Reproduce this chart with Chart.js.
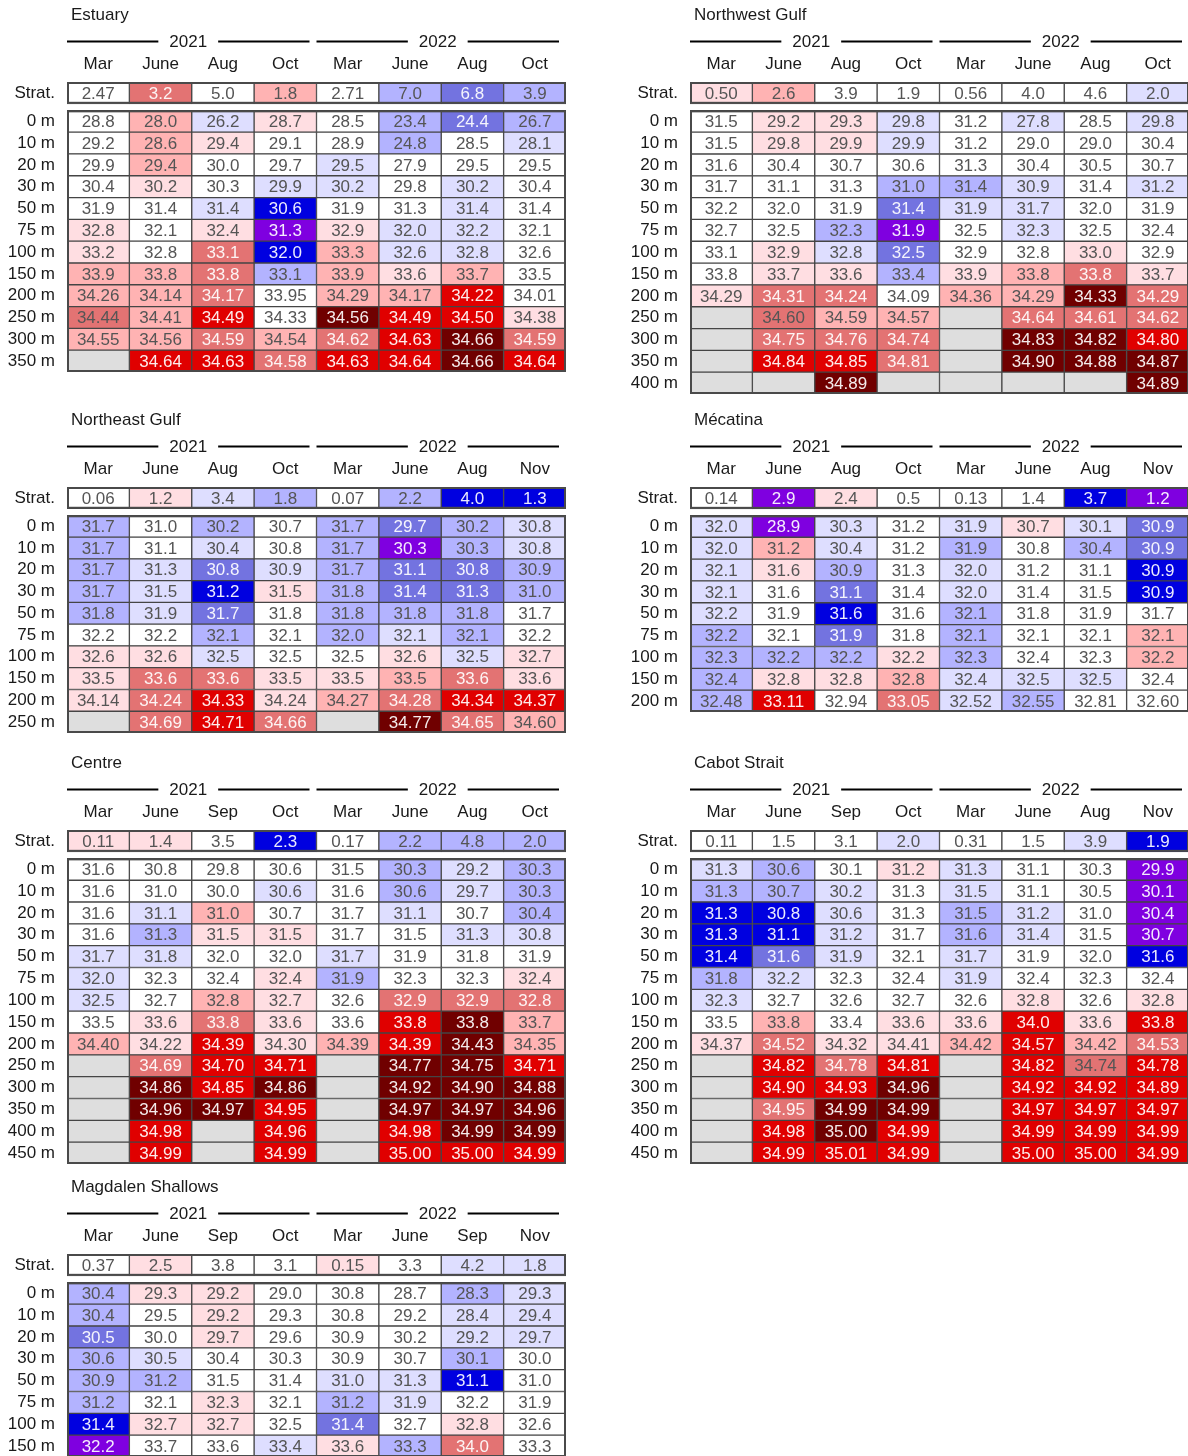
<!DOCTYPE html>
<html>
<head>
<meta charset="utf-8">
<script src="https://cdn.jsdelivr.net/npm/chart.js@4.4.0/dist/chart.umd.min.js"></script>
<style>
  html, body { margin: 0; padding: 0; background: #fff; overflow: hidden; }
  #wrap { position: relative; width: 1188px; height: 1456px; overflow: hidden; }
  #wrap canvas { position: absolute; }
</style>
</head>
<body>
<div id="wrap"></div>
<script>
const N = null;
const years = ['2021', '2022'];

// Estuary
const estuaryMonths = ['Mar', 'June', 'Aug', 'Oct', 'Mar', 'June', 'Aug', 'Oct'];
const estuaryDepths = [0, 10, 20, 30, 50, 75, 100, 150, 200, 250, 300, 350];
const estuaryStrat = [2.47, 3.2, 5.0, 1.8, 2.71, 7.0, 6.8, 3.9];
const estuaryStratAnom = [0, 3, 0, 2, 0, -2, -3, -2];
const estuarySal = [
  [28.8, 28.0, 26.2, 28.7, 28.5, 23.4, 24.4, 26.7],
  [29.2, 28.6, 29.4, 29.1, 28.9, 24.8, 28.5, 28.1],
  [29.9, 29.4, 30.0, 29.7, 29.5, 27.9, 29.5, 29.5],
  [30.4, 30.2, 30.3, 29.9, 30.2, 29.8, 30.2, 30.4],
  [31.9, 31.4, 31.4, 30.6, 31.9, 31.3, 31.4, 31.4],
  [32.8, 32.1, 32.4, 31.3, 32.9, 32.0, 32.2, 32.1],
  [33.2, 32.8, 33.1, 32.0, 33.3, 32.6, 32.8, 32.6],
  [33.9, 33.8, 33.8, 33.1, 33.9, 33.6, 33.7, 33.5],
  [34.26, 34.14, 34.17, 33.95, 34.29, 34.17, 34.22, 34.01],
  [34.44, 34.41, 34.49, 34.33, 34.56, 34.49, 34.50, 34.38],
  [34.55, 34.56, 34.59, 34.54, 34.62, 34.63, 34.66, 34.59],
  [N, 34.64, 34.63, 34.58, 34.63, 34.64, 34.66, 34.64]
];
const estuaryAnom = [
  [0, 2, -1, 1, 0, -2, -3, -2],
  [0, 2, 1, 0, 0, -2, 0, -1],
  [0, 2, 0, 0, -1, 0, 0, 0],
  [0, 1, 0, -1, -1, 0, -1, 0],
  [0, 0, -1, -4, 0, 0, -1, 0],
  [1, 0, 1, -5, 1, -1, -1, 0],
  [1, 0, 3, -4, 2, -1, -1, 0],
  [2, 2, 3, -2, 2, 1, 2, 0],
  [2, 2, 3, 0, 2, 2, 4, 0],
  [3, 2, 4, 0, 5, 4, 4, 1],
  [2, 2, 3, 2, 3, 4, 5, 3],
  [N, 4, 4, 3, 4, 4, 5, 4]
];
const estuaryDarkText = [[9, 0]];

// Northwest Gulf
const nwMonths = ['Mar', 'June', 'Aug', 'Oct', 'Mar', 'June', 'Aug', 'Oct'];
const nwDepths = [0, 10, 20, 30, 50, 75, 100, 150, 200, 250, 300, 350, 400];
const nwStrat = [0.50, 2.6, 3.9, 1.9, 0.56, 4.0, 4.6, 2.0];
const nwStratAnom = [1, 2, 0, 0, 0, 0, 0, -1];
const nwSal = [
  [31.5, 29.2, 29.3, 29.8, 31.2, 27.8, 28.5, 29.8],
  [31.5, 29.8, 29.9, 29.9, 31.2, 29.0, 29.0, 30.4],
  [31.6, 30.4, 30.7, 30.6, 31.3, 30.4, 30.5, 30.7],
  [31.7, 31.1, 31.3, 31.0, 31.4, 30.9, 31.4, 31.2],
  [32.2, 32.0, 31.9, 31.4, 31.9, 31.7, 32.0, 31.9],
  [32.7, 32.5, 32.3, 31.9, 32.5, 32.3, 32.5, 32.4],
  [33.1, 32.9, 32.8, 32.5, 32.9, 32.8, 33.0, 32.9],
  [33.8, 33.7, 33.6, 33.4, 33.9, 33.8, 33.8, 33.7],
  [34.29, 34.31, 34.24, 34.09, 34.36, 34.29, 34.33, 34.29],
  [N, 34.60, 34.59, 34.57, N, 34.64, 34.61, 34.62],
  [N, 34.75, 34.76, 34.74, N, 34.83, 34.82, 34.80],
  [N, 34.84, 34.85, 34.81, N, 34.90, 34.88, 34.87],
  [N, N, 34.89, N, N, N, N, 34.89]
];
const nwAnom = [
  [0, 1, 1, -1, 0, -1, 0, -1],
  [0, 1, 1, -1, 0, 0, 0, 0],
  [0, 0, 0, 0, 0, 0, 0, 0],
  [0, 0, 0, -2, -2, -1, 0, -1],
  [0, 0, 0, -3, -1, -1, 0, 0],
  [0, 0, -2, -5, 0, -1, 0, 0],
  [0, 1, -1, -3, 0, 0, 1, 0],
  [0, 1, 1, -2, 1, 2, 3, 1],
  [1, 3, 3, 0, 2, 2, 5, 3],
  [N, 3, 2, 2, N, 3, 3, 3],
  [N, 3, 3, 3, N, 5, 5, 4],
  [N, 4, 4, 3, N, 5, 5, 5],
  [N, N, 5, N, N, N, N, 5]
];
const nwDarkText = [[9, 1]];

// Northeast Gulf
const neMonths = ['Mar', 'June', 'Aug', 'Oct', 'Mar', 'June', 'Aug', 'Nov'];
const neDepths = [0, 10, 20, 30, 50, 75, 100, 150, 200, 250];
const neStrat = [0.06, 1.2, 3.4, 1.8, 0.07, 2.2, 4.0, 1.3];
const neStratAnom = [0, 1, -1, -2, 0, -2, -4, -4];
const neSal = [
  [31.7, 31.0, 30.2, 30.7, 31.7, 29.7, 30.2, 30.8],
  [31.7, 31.1, 30.4, 30.8, 31.7, 30.3, 30.3, 30.8],
  [31.7, 31.3, 30.8, 30.9, 31.7, 31.1, 30.8, 30.9],
  [31.7, 31.5, 31.2, 31.5, 31.8, 31.4, 31.3, 31.0],
  [31.8, 31.9, 31.7, 31.8, 31.8, 31.8, 31.8, 31.7],
  [32.2, 32.2, 32.1, 32.1, 32.0, 32.1, 32.1, 32.2],
  [32.6, 32.6, 32.5, 32.5, 32.5, 32.6, 32.5, 32.7],
  [33.5, 33.6, 33.6, 33.5, 33.5, 33.5, 33.6, 33.6],
  [34.14, 34.24, 34.33, 34.24, 34.27, 34.28, 34.34, 34.37],
  [N, 34.69, 34.71, 34.66, N, 34.77, 34.65, 34.60]
];
const neAnom = [
  [-2, 0, -2, 0, -2, -3, -2, -1],
  [-2, 0, -1, 0, -2, -5, -2, -1],
  [-2, -1, -3, -1, -2, -3, -3, -2],
  [-2, -1, -4, 1, -2, -3, -3, -2],
  [-2, -1, -3, 0, -2, -2, -2, 0],
  [0, 0, -2, 0, -2, -1, -2, 0],
  [1, 1, -1, 0, 0, 1, -1, 1],
  [1, 3, 3, 1, 1, 2, 3, 1],
  [1, 3, 4, 1, 2, 3, 4, 4],
  [N, 3, 4, 3, N, 5, 3, 2]
];

// Mécatina
const meMonths = ['Mar', 'June', 'Aug', 'Oct', 'Mar', 'June', 'Aug', 'Nov'];
const meDepths = [0, 10, 20, 30, 50, 75, 100, 150, 200];
const meStrat = [0.14, 2.9, 2.4, 0.5, 0.13, 1.4, 3.7, 1.2];
const meStratAnom = [0, -5, 1, 0, 0, 0, -4, -5];
const meSal = [
  [32.0, 28.9, 30.3, 31.2, 31.9, 30.7, 30.1, 30.9],
  [32.0, 31.2, 30.4, 31.2, 31.9, 30.8, 30.4, 30.9],
  [32.1, 31.6, 30.9, 31.3, 32.0, 31.2, 31.1, 30.9],
  [32.1, 31.6, 31.1, 31.4, 32.0, 31.4, 31.5, 30.9],
  [32.2, 31.9, 31.6, 31.6, 32.1, 31.8, 31.9, 31.7],
  [32.2, 32.1, 31.9, 31.8, 32.1, 32.1, 32.1, 32.1],
  [32.3, 32.2, 32.2, 32.2, 32.3, 32.4, 32.3, 32.2],
  [32.4, 32.8, 32.8, 32.8, 32.4, 32.5, 32.5, 32.4],
  [32.48, 33.11, 32.94, 33.05, 32.52, 32.55, 32.81, 32.60]
];
const meAnom = [
  [-1, -5, -1, 0, -1, 1, -1, -3],
  [-1, 2, -1, 0, -2, 0, -2, -3],
  [-1, 1, -2, 0, -1, 0, 0, -4],
  [-1, 0, -3, 0, -1, 0, 0, -4],
  [-1, 0, -4, 0, -2, 0, 0, 0],
  [-2, 0, -3, 0, -2, 0, 0, 2],
  [-2, -2, -2, 1, -2, 0, 0, 2],
  [-2, 1, 1, 2, -1, -1, -1, 0],
  [-2, 4, 0, 3, -1, -2, 0, 0]
];

// Centre
const ceMonths = ['Mar', 'June', 'Sep', 'Oct', 'Mar', 'June', 'Aug', 'Oct'];
const ceDepths = [0, 10, 20, 30, 50, 75, 100, 150, 200, 250, 300, 350, 400, 450];
const ceStrat = [0.11, 1.4, 3.5, 2.3, 0.17, 2.2, 4.8, 2.0];
const ceStratAnom = [1, 1, 0, -4, 0, -2, -2, -2];
const ceSal = [
  [31.6, 30.8, 29.8, 30.6, 31.5, 30.3, 29.2, 30.3],
  [31.6, 31.0, 30.0, 30.6, 31.6, 30.6, 29.7, 30.3],
  [31.6, 31.1, 31.0, 30.7, 31.7, 31.1, 30.7, 30.4],
  [31.6, 31.3, 31.5, 31.5, 31.7, 31.5, 31.3, 30.8],
  [31.7, 31.8, 32.0, 32.0, 31.7, 31.9, 31.8, 31.9],
  [32.0, 32.3, 32.4, 32.4, 31.9, 32.3, 32.3, 32.4],
  [32.5, 32.7, 32.8, 32.7, 32.6, 32.9, 32.9, 32.8],
  [33.5, 33.6, 33.8, 33.6, 33.6, 33.8, 33.8, 33.7],
  [34.40, 34.22, 34.39, 34.30, 34.39, 34.39, 34.43, 34.35],
  [N, 34.69, 34.70, 34.71, N, 34.77, 34.75, 34.71],
  [N, 34.86, 34.85, 34.86, N, 34.92, 34.90, 34.88],
  [N, 34.96, 34.97, 34.95, N, 34.97, 34.97, 34.96],
  [N, 34.98, N, 34.96, N, 34.98, 34.99, 34.99],
  [N, 34.99, N, 34.99, N, 35.00, 35.00, 34.99]
];
const ceAnom = [
  [0, 0, 0, 0, 0, -2, -1, -2],
  [0, 0, 0, -1, 0, -2, -1, -2],
  [0, -1, 2, 0, 0, -1, 0, -2],
  [0, -2, 1, 1, 0, 0, -1, -1],
  [-1, -1, 0, 0, -1, 0, 0, 0],
  [-1, 0, 0, 1, -2, 0, 0, 1],
  [-1, 0, 2, 1, 0, 3, 3, 3],
  [0, 1, 3, 1, 0, 4, 5, 2],
  [2, 1, 4, 1, 2, 4, 5, 2],
  [N, 3, 4, 4, N, 5, 5, 4],
  [N, 5, 4, 5, N, 5, 5, 5],
  [N, 5, 5, 4, N, 5, 5, 5],
  [N, 4, N, 4, N, 4, 5, 5],
  [N, 4, N, 4, N, 4, 4, 4]
];

// Cabot Strait
const caMonths = ['Mar', 'June', 'Sep', 'Oct', 'Mar', 'June', 'Aug', 'Nov'];
const caDepths = [0, 10, 20, 30, 50, 75, 100, 150, 200, 250, 300, 350, 400, 450];
const caStrat = [0.11, 1.5, 3.1, 2.0, 0.31, 1.5, 3.9, 1.9];
const caStratAnom = [0, 0, 0, -1, 0, 0, -1, -4];
const caSal = [
  [31.3, 30.6, 30.1, 31.2, 31.3, 31.1, 30.3, 29.9],
  [31.3, 30.7, 30.2, 31.3, 31.5, 31.1, 30.5, 30.1],
  [31.3, 30.8, 30.6, 31.3, 31.5, 31.2, 31.0, 30.4],
  [31.3, 31.1, 31.2, 31.7, 31.6, 31.4, 31.5, 30.7],
  [31.4, 31.6, 31.9, 32.1, 31.7, 31.9, 32.0, 31.6],
  [31.8, 32.2, 32.3, 32.4, 31.9, 32.4, 32.3, 32.4],
  [32.3, 32.7, 32.6, 32.7, 32.6, 32.8, 32.6, 32.8],
  [33.5, 33.8, 33.4, 33.6, 33.6, 34.0, 33.6, 33.8],
  [34.37, 34.52, 34.32, 34.41, 34.42, 34.57, 34.42, 34.53],
  [N, 34.82, 34.78, 34.81, N, 34.82, 34.74, 34.78],
  [N, 34.90, 34.93, 34.96, N, 34.92, 34.92, 34.89],
  [N, 34.95, 34.99, 34.99, N, 34.97, 34.97, 34.97],
  [N, 34.98, 35.00, 34.99, N, 34.99, 34.99, 34.99],
  [N, 34.99, 35.01, 34.99, N, 35.00, 35.00, 34.99]
];
const caAnom = [
  [-1, -2, 0, 1, -1, 0, 0, -5],
  [-2, -2, -1, 0, -1, 0, 0, -5],
  [-4, -4, -1, 0, -2, -1, 0, -5],
  [-4, -4, -1, 0, -2, -1, 0, -5],
  [-4, -3, -1, 0, -1, 0, 0, -4],
  [-2, -1, 0, 0, -1, 0, 0, 0],
  [-1, 0, 0, 0, 0, 1, 0, 1],
  [0, 2, 0, 1, 1, 4, 1, 4],
  [1, 3, 1, 1, 2, 4, 2, 3],
  [N, 4, 3, 4, N, 4, 3, 4],
  [N, 4, 4, 5, N, 4, 4, 4],
  [N, 3, 5, 5, N, 4, 4, 4],
  [N, 4, 5, 4, N, 4, 4, 4],
  [N, 4, 4, 4, N, 4, 4, 4]
];
const caDarkText = [[9, 6]];

// Magdalen Shallows
const maMonths = ['Mar', 'June', 'Sep', 'Oct', 'Mar', 'June', 'Sep', 'Nov'];
const maDepths = [0, 10, 20, 30, 50, 75, 100, 150];
const maStrat = [0.37, 2.5, 3.8, 3.1, 0.15, 3.3, 4.2, 1.8];
const maStratAnom = [0, 1, 0, 0, 1, 0, -1, -1];
const maSal = [
  [30.4, 29.3, 29.2, 29.0, 30.8, 28.7, 28.3, 29.3],
  [30.4, 29.5, 29.2, 29.3, 30.8, 29.2, 28.4, 29.4],
  [30.5, 30.0, 29.7, 29.6, 30.9, 30.2, 29.2, 29.7],
  [30.6, 30.5, 30.4, 30.3, 30.9, 30.7, 30.1, 30.0],
  [30.9, 31.2, 31.5, 31.4, 31.0, 31.3, 31.1, 31.0],
  [31.2, 32.1, 32.3, 32.1, 31.2, 31.9, 32.2, 31.9],
  [31.4, 32.7, 32.7, 32.5, 31.4, 32.7, 32.8, 32.6],
  [32.2, 33.7, 33.6, 33.4, 33.6, 33.3, 34.0, 33.3]
];
const maAnom = [
  [-2, 1, 1, 0, 0, 0, -2, -1],
  [-2, 0, 1, 0, 0, 0, -1, -1],
  [-3, 0, 1, 0, 0, 0, -1, -1],
  [-2, -1, 0, 0, 0, 0, -2, 0],
  [-2, -2, 0, 0, -1, -1, -4, 0],
  [-2, 0, 1, 0, -2, -1, 0, 0],
  [-4, 1, 1, 0, -3, 0, 1, 0],
  [-5, 0, 0, -1, 1, -2, 3, 0]
];

// anomaly class -> fill colour
const fills = {
  '-5': '#7f00e0', '-4': '#0000e0', '-3': '#7373e0', '-2': '#b3b3ff', '-1': '#dedeff',
  '0': '#ffffff', '1': '#ffdee2', '2': '#ffb3b3', '3': '#e37373', '4': '#e00000', '5': '#700000'
};
const missingFill = '#dedede';
const FONT = '"Liberation Sans", Arial, Helvetica, sans-serif';
const ROW = 21.8;
const TOP = 82;

const panels = [
  { title: 'Estuary', months: estuaryMonths, depths: estuaryDepths, strat: estuaryStrat, stratAnom: estuaryStratAnom, sal: estuarySal, anom: estuaryAnom, dark: estuaryDarkText, left: 0, top: 0 },
  { title: 'Northwest Gulf', months: nwMonths, depths: nwDepths, strat: nwStrat, stratAnom: nwStratAnom, sal: nwSal, anom: nwAnom, dark: nwDarkText, left: 623, top: 0 },
  { title: 'Northeast Gulf', months: neMonths, depths: neDepths, strat: neStrat, stratAnom: neStratAnom, sal: neSal, anom: neAnom, dark: [], left: 0, top: 405 },
  { title: 'Mécatina', months: meMonths, depths: meDepths, strat: meStrat, stratAnom: meStratAnom, sal: meSal, anom: meAnom, dark: [], left: 623, top: 405 },
  { title: 'Centre', months: ceMonths, depths: ceDepths, strat: ceStrat, stratAnom: ceStratAnom, sal: ceSal, anom: ceAnom, dark: [], left: 0, top: 748 },
  { title: 'Cabot Strait', months: caMonths, depths: caDepths, strat: caStrat, stratAnom: caStratAnom, sal: caSal, anom: caAnom, dark: caDarkText, left: 623, top: 748 },
  { title: 'Magdalen Shallows', months: maMonths, depths: maDepths, strat: maStrat, stratAnom: maStratAnom, sal: maSal, anom: maAnom, dark: [], left: 0, top: 1172 }
];

function buildCells(p) {
  const cells = [];
  p.strat.forEach((v, c) => {
    cells.push({ x: c, y: [-1.8, -0.8], v: v, k: p.stratAnom[c], d: c % 4 === 0 ? 2 : 1, dark: false });
  });
  p.sal.forEach((row, r) => {
    row.forEach((v, c) => {
      const dark = p.dark.some(e => e[0] === r && e[1] === c);
      cells.push({ x: c, y: [r - 0.5, r + 0.5], v: v, k: p.anom[r][c], d: p.depths[r] >= 200 ? 2 : 1, dark: dark });
    });
  });
  return cells;
}

// heavier outline round the strat row and the depth table
const outline = {
  id: 'outline',
  afterDatasetsDraw(chart) {
    const ctx = chart.ctx;
    const xs = chart.scales.x;
    const ys = chart.scales.y;
    const l = xs.getPixelForValue(-0.5);
    const r = xs.getPixelForValue(7.5);
    const blocks = [[-1.8, -0.8], [-0.5, ys.max]];
    ctx.save();
    ctx.strokeStyle = '#4a4a4a';
    ctx.lineWidth = 2;
    blocks.forEach(b => {
      const t = ys.getPixelForValue(b[0]);
      const btm = ys.getPixelForValue(b[1]);
      ctx.strokeRect(l + 1, t + 1, r - l - 2, btm - t - 2);
    });
    ctx.restore();
  }
};

const cellText = {
  id: 'cellText',
  afterDatasetsDraw(chart) {
    const ctx = chart.ctx;
    const meta = chart.getDatasetMeta(0);
    const data = chart.data.datasets[0].data;
    ctx.save();
    ctx.font = '17px ' + FONT;
    ctx.textAlign = 'center';
    ctx.textBaseline = 'middle';
    meta.data.forEach((el, i) => {
      const c = data[i];
      if (c.v === null) return;
      const pt = el.getCenterPoint();
      const light = Math.abs(c.k) >= 3 && !c.dark;
      ctx.fillStyle = light ? 'rgba(255,255,255,0.92)' : '#555555';
      ctx.fillText(c.v.toFixed(c.d), pt.x, pt.y + 1);
    });
    ctx.restore();
  }
};

const header = {
  id: 'header',
  afterDraw(chart) {
    const ctx = chart.ctx;
    const area = chart.chartArea;
    const xs = chart.scales.x;
    const colW = xs.getPixelForValue(1) - xs.getPixelForValue(0);
    ctx.save();
    ctx.fillStyle = '#1a1a1a';
    ctx.font = '17px ' + FONT;
    ctx.textBaseline = 'middle';
    ctx.textAlign = 'left';
    ctx.fillText(chart.options.plugins.header.title, area.left + 4, area.top - 67);
    ctx.textAlign = 'center';
    ctx.strokeStyle = '#000';
    ctx.lineWidth = 2;
    const y = area.top - 40.5;
    years.forEach((yr, g) => {
      const l = xs.getPixelForValue(g * 4) - colW / 2;
      const r = xs.getPixelForValue(g * 4 + 3) + colW / 2 - 7;
      const mid = (l + r) / 2;
      const w = ctx.measureText(yr).width;
      ctx.fillText(yr, mid, y + 1);
      ctx.beginPath();
      ctx.moveTo(l, y);
      ctx.lineTo(mid - w / 2 - 11, y);
      ctx.moveTo(mid + w / 2 + 11, y);
      ctx.lineTo(r, y);
      ctx.stroke();
    });
    ctx.restore();
  }
};

const wrap = document.getElementById('wrap');
panels.forEach(p => {
  const n = p.depths.length;
  const canvas = document.createElement('canvas');
  const h = Math.round(TOP + (n + 1.3) * ROW + 2);
  canvas.width = 566;
  canvas.height = h;
  canvas.style.left = p.left + 'px';
  canvas.style.top = p.top + 'px';
  canvas.style.width = '566px';
  canvas.style.height = h + 'px';
  wrap.appendChild(canvas);

  new Chart(canvas.getContext('2d'), {
    type: 'bar',
    data: {
      datasets: [{
        data: buildCells(p),
        backgroundColor: ctx => ctx.raw && ctx.raw.v === null ? missingFill : fills[String(ctx.raw ? ctx.raw.k : 0)],
        borderColor: '#454545',
        borderWidth: 1,
        borderSkipped: false,
        barPercentage: 1,
        categoryPercentage: 1
      }]
    },
    options: {
      responsive: false,
      animation: false,
      devicePixelRatio: 1,
      events: [],
      layout: { padding: { top: TOP - 30, left: 0, right: 0, bottom: 2 } },
      plugins: {
        legend: { display: false },
        tooltip: { enabled: false },
        header: { title: p.title }
      },
      scales: {
        x: {
          type: 'linear',
          position: 'top',
          offset: false,
          min: -0.5,
          max: 7.5,
          grid: { display: false, drawTicks: false, offset: false },
          border: { display: false },
          afterBuildTicks: axis => {
            axis.ticks = p.months.map((m, i) => ({ value: i }));
          },
          ticks: {
            padding: 7,
            autoSkip: false,
            maxRotation: 0,
            color: '#1a1a1a',
            font: { family: FONT, size: 17 },
            callback: v => p.months[v]
          },
          afterFit: s => { s.height = 30; s.paddingLeft = 0; s.paddingRight = 0; }
        },
        y: {
          type: 'linear',
          reverse: true,
          min: -1.8,
          max: n - 0.5,
          grid: { display: false, drawTicks: false },
          border: { display: false },
          afterBuildTicks: axis => {
            axis.ticks = [{ value: -1.3 }].concat(p.depths.map((d, i) => ({ value: i })));
          },
          ticks: {
            padding: 12,
            autoSkip: false,
            color: '#1a1a1a',
            font: { family: FONT, size: 17 },
            callback: v => v < 0 ? 'Strat.' : p.depths[v] + ' m'
          },
          afterFit: s => { s.width = 67; s.paddingTop = 0; s.paddingBottom = 0; }
        }
      }
    },
    plugins: [outline, cellText, header]
  });
});
</script>
</body>
</html>
